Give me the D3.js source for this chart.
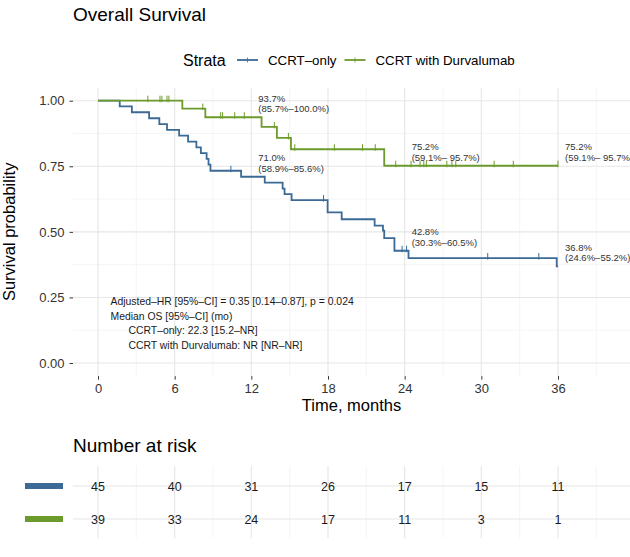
<!DOCTYPE html>
<html>
<head>
<meta charset="utf-8">
<script src="https://cdn.jsdelivr.net/npm/d3@7"></script>
<style>
  body { margin: 0; background: #fff; }
  svg { display: block; font-family: "Liberation Sans", Arial, sans-serif; }
</style>
</head>
<body>
<script>
var w = 630;
var h = 557;

// survival curves (step times in months, survival after step)
var strata = ["CCRT\u2013only", "CCRT with Durvalumab"];
var colors = ["#3a6a95", "#6c9a2c"];

var blueTimes = [0, 1.7, 2.65, 4.0, 4.8, 5.4, 6.35, 7.05, 7.7, 8.05, 8.5, 8.65, 8.8, 11.2, 13.05, 14.45, 14.6, 15.15, 17.97, 19.07, 21.65, 22.3, 22.4, 23.2, 24.3, 35.9];
var blueSurv = [1, 0.978, 0.956, 0.933, 0.911, 0.889, 0.867, 0.844, 0.822, 0.800, 0.778, 0.756, 0.733, 0.710, 0.688, 0.665, 0.644, 0.621, 0.574, 0.548, 0.524, 0.505, 0.476, 0.428, 0.400, 0.368];
var blueCensor = [10.4, 17.65, 23.8, 24.15, 30.5, 34.5];

var greenTimes = [0, 6.6, 8.4, 12.8, 14.0, 15.1, 22.4];
var greenSurv = [1, 0.970, 0.937, 0.900, 0.858, 0.815, 0.752];
var greenCensor = [3.9, 4.85, 5.0, 5.4, 5.55, 8.2, 9.6, 9.75, 10.7, 11.45, 13.8, 14.9, 15.4, 18.5, 20.7, 21.7, 23.3, 24.5, 25.2, 25.5, 25.7, 27.3, 27.7, 28.0, 31.0, 32.5, 36.0];
var endTime = 36;

// landmark labels
var labelTimes = [12, 24, 36];
var blueLabels = [["71.0%", "(58.9%\u201385.6%)"], ["42.8%", "(30.3%\u201360.5%)"], ["36.8%", "(24.6%\u201355.2%)"]];
var greenLabels = [["93.7%", "(85.7%\u2013100.0%)"], ["75.2%", "(59.1%\u2013 95.7%)"], ["75.2%", "(59.1%\u2013 95.7%)"]];

var noteLines = [
  "Adjusted\u2013HR [95%\u2013CI] = 0.35 [0.14\u20130.87], p = 0.024",
  "Median OS [95%\u2013CI] (mo)",
  "CCRT\u2013only: 22.3 [15.2\u2013NR]",
  "CCRT with Durvalumab: NR [NR\u2013NR]"
];

var xTicks = [0, 6, 12, 18, 24, 30, 36];
var yTicks = [0, 0.25, 0.5, 0.75, 1];
var riskBlue = [45, 40, 31, 26, 17, 15, 11];
var riskGreen = [39, 33, 24, 17, 11, 3, 1];

var pLeft = 73, pRight = 630;
var x = d3.scaleLinear().domain([0, 36]).range([98, 558]);
var y = d3.scaleLinear().domain([0, 1]).range([363, 100.7]);
var pTop = y(1.05), pBottom = y(-0.05);

var svg = d3.select("body").append("svg")
    .attr("width", w)
    .attr("height", h);

svg.append("defs").append("clipPath").attr("id", "clip")
  .append("rect").attr("x", pLeft).attr("y", 0).attr("width", pRight - pLeft).attr("height", h);

// grid
var minorX = d3.range(3, 40, 6), majorX = d3.range(0, 40, 6);
var minorY = d3.range(0.125, 1.01, 0.25);
var grid = svg.append("g");
grid.selectAll(".vminor").data(minorX).enter().append("line")
    .attr("x1", d => x(d)).attr("x2", d => x(d))
    .attr("y1", pTop).attr("y2", pBottom)
    .attr("stroke", "#efefef").attr("stroke-width", 0.6);
grid.selectAll(".hminor").data(minorY).enter().append("line")
    .attr("x1", pLeft).attr("x2", pRight)
    .attr("y1", d => y(d)).attr("y2", d => y(d))
    .attr("stroke", "#efefef").attr("stroke-width", 0.6);
grid.selectAll(".vmajor").data(majorX).enter().append("line")
    .attr("x1", d => x(d)).attr("x2", d => x(d))
    .attr("y1", pTop).attr("y2", pBottom)
    .attr("stroke", "#e6e6e6").attr("stroke-width", 1.1);
grid.selectAll(".hmajor").data(yTicks).enter().append("line")
    .attr("x1", pLeft).attr("x2", pRight)
    .attr("y1", d => y(d)).attr("y2", d => y(d))
    .attr("stroke", "#e6e6e6").attr("stroke-width", 1.1);

// axes
var xAxis = svg.append("g").attr("transform", "translate(0," + pBottom + ")")
    .call(d3.axisBottom(x).tickValues(xTicks).tickSize(3.5).tickPadding(4));
var yAxis = svg.append("g").attr("transform", "translate(" + pLeft + ",0)")
    .call(d3.axisLeft(y).tickValues(yTicks).tickSize(3.5).tickPadding(5).tickFormat(d3.format(".2f")));
[xAxis, yAxis].forEach(function(a) {
  a.select(".domain").remove();
  a.selectAll("line").attr("stroke", "#333").attr("stroke-width", 1);
  a.selectAll("text").attr("fill", "#333").style("font-size", "13px").style("font-family", "Liberation Sans, Arial, sans-serif");
});

// curves
function stepPath(times, surv) {
  var pts = times.map((t, i) => [t, surv[i]]);
  pts.push([endTime, surv[surv.length - 1]]);
  return d3.line().x(d => x(d[0])).y(d => y(d[1])).curve(d3.curveStepAfter)(pts);
}
function survAt(times, surv, t) {
  var s = surv[0];
  times.forEach((tt, i) => { if (tt <= t) s = surv[i]; });
  return s;
}
var curves = [
  {times: blueTimes, surv: blueSurv, cens: blueCensor, color: colors[0], labels: blueLabels},
  {times: greenTimes, surv: greenSurv, cens: greenCensor, color: colors[1], labels: greenLabels}
];
var plot = svg.append("g").attr("clip-path", "url(#clip)");
curves.forEach(function(c) {
  plot.append("path").attr("d", stepPath(c.times, c.surv))
      .attr("fill", "none").attr("stroke", c.color).attr("stroke-width", 1.8);
  plot.selectAll(null).data(c.cens).enter().append("line")
      .attr("x1", d => x(d)).attr("x2", d => x(d))
      .attr("y1", d => y(survAt(c.times, c.surv, d)) - 5)
      .attr("y2", d => y(survAt(c.times, c.surv, d)) + 1.5)
      .attr("stroke", c.color).attr("stroke-width", 1);
});
// labels
curves.forEach(function(c) {
  labelTimes.forEach(function(t, i) {
    var sy = y(survAt(c.times, c.surv, t));
    var tx = plot.append("text").attr("x", x(t) + 7).attr("fill", "#333").style("font-size", "9.5px");
    tx.append("tspan").attr("x", x(t) + 7).attr("y", sy - 15.5).text(c.labels[i][0]);
    tx.append("tspan").attr("x", x(t) + 7).attr("y", sy - 5).text(c.labels[i][1]);
  });
});

// notes
svg.selectAll(".note").data(noteLines).enter().append("text")
    .attr("x", (d, i) => i < 2 ? 110.5 : 128.5)
    .attr("y", (d, i) => 305 + i * 14.6)
    .attr("fill", "#1a1a1a").style("font-size", "10.4px")
    .text(d => d);

// titles
svg.append("text").attr("x", 73).attr("y", 21).style("font-size", "19px").attr("fill", "#000").text("Overall Survival");
svg.append("text").attr("x", (pLeft + pRight) / 2).attr("y", 411).attr("text-anchor", "middle")
    .style("font-size", "16.5px").attr("fill", "#000").text("Time, months");
svg.append("text").attr("transform", "translate(15," + ((pTop + pBottom) / 2) + ")rotate(-90)")
    .attr("text-anchor", "middle").style("font-size", "16.5px").attr("fill", "#000").text("Survival probability");

// legend
var lg = svg.append("g").attr("transform", "translate(0,60)");
lg.append("text").attr("x", 183).attr("y", 5.5).style("font-size", "16px").text("Strata");
var legX = [237, 344.5];
strata.forEach(function(s, i) {
  lg.append("line").attr("x1", legX[i]).attr("x2", legX[i] + 21).attr("y1", 0).attr("y2", 0)
      .attr("stroke", colors[i]).attr("stroke-width", 1.8);
  lg.append("line").attr("x1", legX[i] + 10.5).attr("x2", legX[i] + 10.5).attr("y1", -2.5).attr("y2", 2.5)
      .attr("stroke", colors[i]).attr("stroke-width", 0.8);
  lg.append("text").attr("x", legX[i] + 31).attr("y", 4.5).style("font-size", "13.3px").text(s);
});

// risk table
svg.append("text").attr("x", 73).attr("y", 452).style("font-size", "19px").attr("fill", "#000").text("Number at risk");
var ry = d3.scalePoint().domain(strata).range([486, 519]);
var rg = svg.append("g");
rg.selectAll(".rv").data(d3.range(0, 40, 3)).enter().append("line")
    .attr("x1", d => x(d)).attr("x2", d => x(d))
    .attr("y1", 466).attr("y2", 538)
    .attr("stroke", d => d % 6 === 0 ? "#e6e6e6" : "#efefef")
    .attr("stroke-width", d => d % 6 === 0 ? 1.1 : 0.6);
rg.selectAll(".rh").data(strata).enter().append("line")
    .attr("x1", pLeft).attr("x2", pRight)
    .attr("y1", d => ry(d)).attr("y2", d => ry(d))
    .attr("stroke", "#e6e6e6").attr("stroke-width", 1.1);
rg.selectAll(".rk").data(strata).enter().append("rect")
    .attr("x", 25).attr("width", 38)
    .attr("y", d => ry(d) - 3).attr("height", 6)
    .attr("fill", (d, i) => colors[i]);
[riskBlue, riskGreen].forEach(function(vals, k) {
  rg.selectAll(null).data(vals).enter().append("text")
      .attr("x", (d, i) => x(xTicks[i])).attr("y", ry(strata[k]) + 4.5)
      .attr("text-anchor", "middle").style("font-size", "12.5px").attr("fill", "#1a1a1a")
      .text(d => d);
});
</script>
</body>
</html>
